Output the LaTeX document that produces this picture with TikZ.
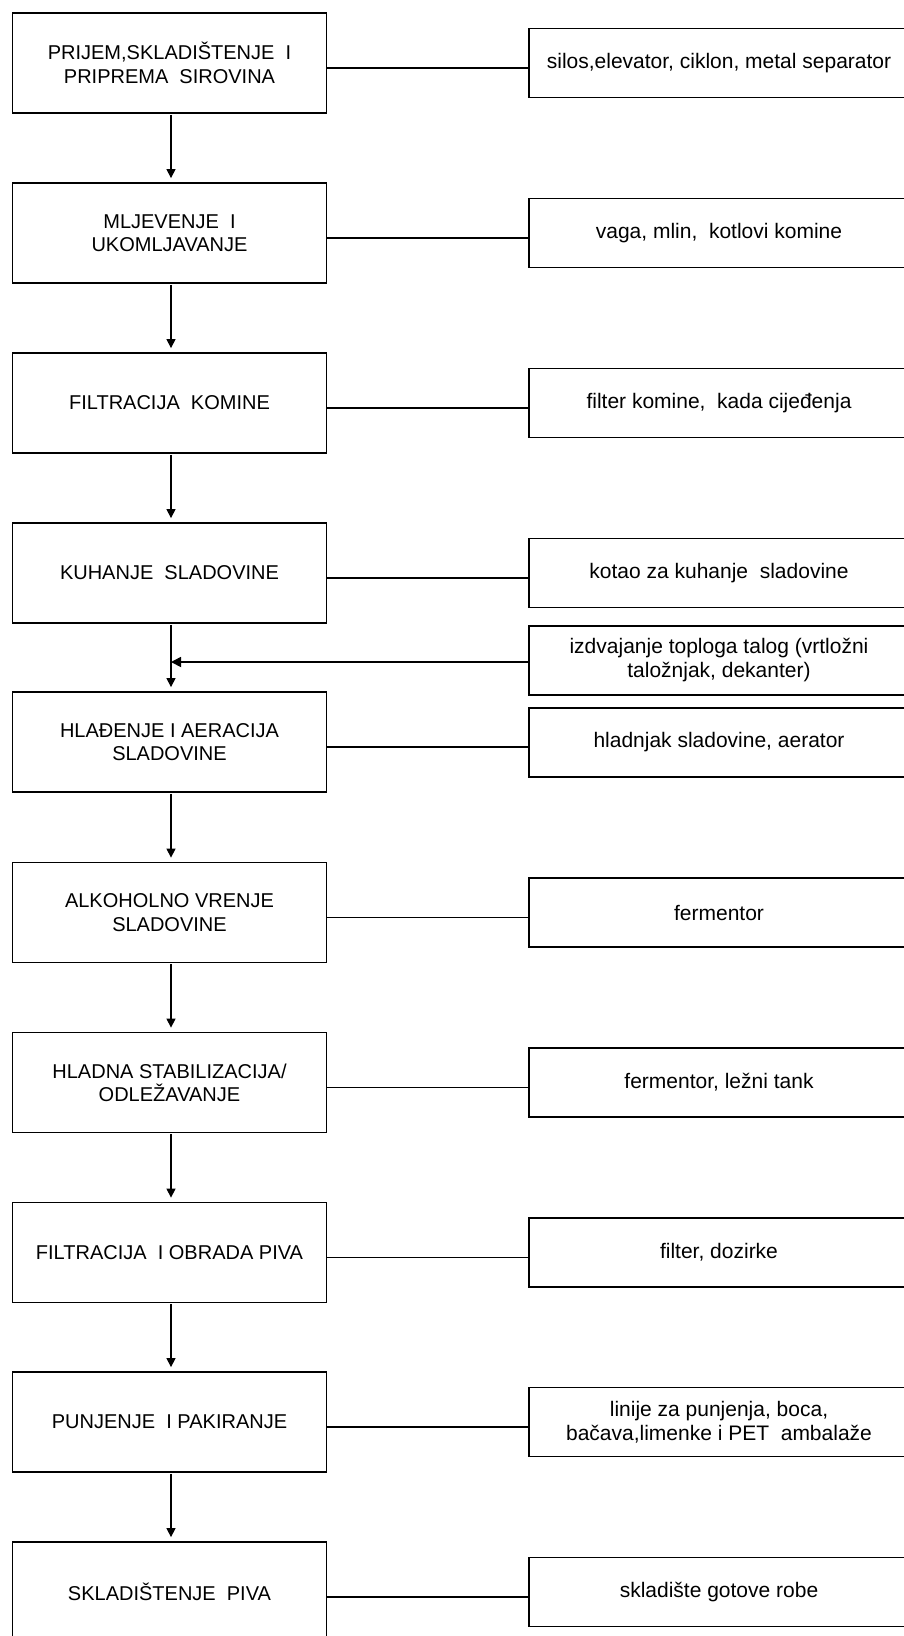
\documentclass[tikz,border=0pt]{standalone}
\usepackage{fontspec}
\setmainfont{Liberation Sans}
\usetikzlibrary{arrows.meta}
\begin{document}
\begin{tikzpicture}[x=1pt,y=-1pt,
  proc/.style={draw,line width=1.8pt,minimum width=314pt,minimum height=100pt,inner sep=0pt,align=center,font=\fontsize{20}{23.3}\selectfont},
  equip/.style={draw,line width=1.8pt,minimum width=380pt,minimum height=69pt,inner sep=0pt,align=center,font=\fontsize{21}{24}\selectfont},
  conn/.style={line width=1.7pt},
  arr/.style={line width=1.2pt,-{Triangle[length=9pt,width=9pt]}},
  harr/.style={line width=1.7pt,-{Triangle[length=10pt,width=10pt]}}]
\useasboundingbox (0,0) rectangle (904,1636);
\clip (0,0) rectangle (904,1636);
\fill[white] (0,0) rectangle (904,1636);
% left process boxes
\node[proc] (L1)  at (169.5,63)   {PRIJEM,SKLADIŠTENJE~ I\\PRIPREMA~ SIROVINA};
\node[proc] (L2)  at (169.5,233)  {MLJEVENJE~ I\\UKOMLJAVANJE};
\node[proc] (L3)  at (169.5,403)  {FILTRACIJA~ KOMINE};
\node[proc] (L4)  at (169.5,573)  {KUHANJE~ SLADOVINE};
\node[proc] (L5)  at (169.5,742)  {HLAĐENJE I AERACIJA\\SLADOVINE};
\node[proc] (L6)  at (169.5,912.5){ALKOHOLNO VRENJE\\SLADOVINE};
\node[proc] (L7)  at (169.5,1082.5){HLADNA STABILIZACIJA/\\ODLEŽAVANJE};
\node[proc] (L8)  at (169.5,1252.5){FILTRACIJA~ I OBRADA PIVA};
\node[proc] (L9)  at (169.5,1422) {PUNJENJE~ I PAKIRANJE};
\node[proc] (L10) at (169.5,1592) {SKLADIŠTENJE~ PIVA};
% right equipment boxes
\node[equip] (R1)  at (719,63)    {silos,elevator, ciklon, metal separator};
\node[equip] (R2)  at (719,233)   {vaga, mlin,~ kotlovi komine};
\node[equip] (R3)  at (719,403)   {filter komine,~ kada cijeđenja};
\node[equip] (R4)  at (719,573)   {kotao za kuhanje~ sladovine};
\node[equip] (RX)  at (719,660.5) {izdvajanje toploga talog (vrtložni\\taložnjak, dekanter)};
\node[equip] (R5)  at (719,742.5) {hladnjak sladovine, aerator};
\node[equip] (R6)  at (719,912.5) {fermentor};
\node[equip] (R7)  at (719,1082.5){fermentor, ležni tank};
\node[equip] (R8)  at (719,1252.5){filter, dozirke};
\node[equip] (R9)  at (719,1422)  {linije za punjenja, boca,\\bačava,limenke i PET~ ambalaže};
\node[equip] (R10) at (719,1592)  {skladište gotove robe};
% horizontal connectors
\foreach \i in {1,...,10}{
  \draw[conn] ([yshift=-5pt]L\i.east) -- ([yshift=-5pt]L\i.east -| R\i.west);
}
% vertical arrows
\foreach \i/\j in {1/2,2/3,3/4,4/5,5/6,6/7,7/8,8/9,9/10}{
  \draw[arr] ([xshift=1.5pt,yshift=-1pt]L\i.south) -- ([xshift=1.5pt,yshift=4pt]L\j.north);
}
% side arrow from separator box
\draw[harr] ([yshift=-1.5pt]RX.west) -- ([yshift=-1.5pt,xshift=1.5pt]RX.west -| L4.south);
\end{tikzpicture}
\end{document}
